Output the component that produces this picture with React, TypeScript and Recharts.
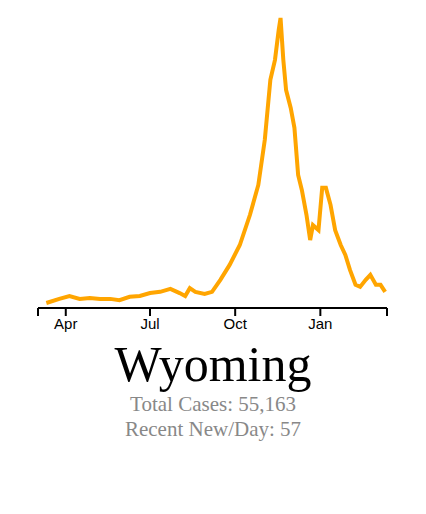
import { LineChart, Line, XAxis, YAxis } from 'recharts';

// day index since 2020-03-02
const days = [9, 23, 34, 45, 56, 67, 78, 88, 99, 110, 121, 132, 143, 153, 159, 164, 170, 180, 188, 197, 207, 218, 229, 238, 245, 251, 256, 260, 262, 265, 268, 273, 277, 281, 285, 290, 294, 297, 303, 307, 311, 316, 321, 327, 332, 337, 343, 348, 354, 359, 365, 370, 375];
const cases = [12, 22, 29, 22, 24, 22, 22, 19, 27, 29, 36, 39, 46, 36, 29, 48, 39, 34, 39, 68, 104, 152, 225, 297, 406, 551, 599, 671, 700, 599, 526, 483, 435, 321, 285, 225, 164, 200, 188, 290, 290, 249, 188, 152, 128, 92, 56, 51, 68, 80, 56, 56, 39];
const tickDays = [0, 30, 121, 213, 305, 377];
const tickLabels = ['', 'Apr', 'Jul', 'Oct', 'Jan', ''];

const data = days.map((d, i) => ({ day: d, cases: cases[i] }));

export default function App() {
  return (
    <div style={{ width: 410 }}>
      <LineChart width={410} height={340} data={data} margin={{ top: 10, right: 31, bottom: 10, left: 30 }}>
        <XAxis
          dataKey="day"
          type="number"
          domain={[0, 377]}
          ticks={tickDays}
          tickFormatter={(v: number) => tickLabels[tickDays.indexOf(v)]}
          tickSize={8}
          height={30}
          stroke="#000"
          strokeWidth={2}
          tick={{ fill: '#000', fontSize: 15, fontFamily: 'Liberation Sans, Arial, sans-serif' }}
        />
        <YAxis hide domain={[0, 700]} />
        <Line dataKey="cases" stroke="#FFA500" strokeWidth={4} dot={false} type="linear" isAnimationActive={false} />
      </LineChart>
      <div style={{ textAlign: 'center', fontFamily: 'Liberation Serif, Times New Roman, serif', marginTop: -12 }}>
        <div style={{ fontSize: 50, lineHeight: '56px', color: '#000' }}>Wyoming</div>
        <div style={{ fontSize: 21, lineHeight: '25px', color: '#888' }}>Total Cases: 55,163</div>
        <div style={{ fontSize: 21, lineHeight: '25px', color: '#888' }}>Recent New/Day: 57</div>
      </div>
    </div>
  );
}
